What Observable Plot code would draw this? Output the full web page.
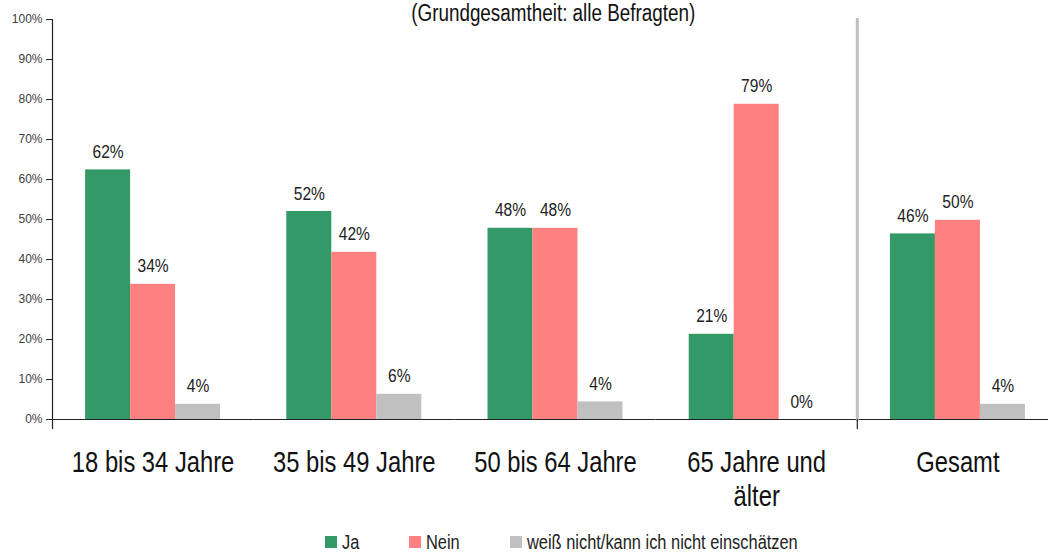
<!DOCTYPE html>
<html>
<head>
<meta charset="utf-8">
<script src="https://cdn.jsdelivr.net/npm/d3@7"></script>
<script src="https://cdn.jsdelivr.net/npm/@observablehq/plot@0.6"></script>
<style>
  html, body { margin: 0; padding: 0; background: #fff; overflow: hidden; }
  #wrap { position: relative; width: 1048px; height: 552px; font-family: "Liberation Sans", Arial, sans-serif; color: #111; }
  #chart { position: absolute; left: 0; top: 0; }
  #title { position: absolute; top: 1.5px; left: 0; width: 1106px; text-align: center; font-size: 23px; line-height: 23px; color: #111; white-space: nowrap; }
  #title span { display: inline-block; transform: scaleX(0.82); transform-origin: center center; }
  #legend { position: absolute; top: 532px; left: 325px; display: flex; font-size: 20px; line-height: 20px; color: #222; white-space: nowrap; }
  #legend .item { display: flex; align-items: center; margin-right: 50px; }
  #legend .sw { width: 12px; height: 12px; display: inline-block; margin-right: 5px; }
  #legend .txt { display: inline-block; transform: scaleX(0.82); transform-origin: left center; }
</style>
</head>
<body>
<div id="wrap">
  <div id="chart"></div>
  <div id="title"><span></span></div>
  <div id="legend"></div>
</div>
<script>
// ---- data ----
const titleText = "(Grundgesamtheit: alle Befragten)";
const groups = ["18 bis 34 Jahre", "35 bis 49 Jahre", "50 bis 64 Jahre", "65 Jahre und älter", "Gesamt"];
const groupLabels = ["18 bis 34 Jahre", "35 bis 49 Jahre", "50 bis 64 Jahre", "65 Jahre und\nälter", "Gesamt"];
const series = ["Ja", "Nein", "weiß nicht/kann ich nicht einschätzen"];
const seriesColors = ["#339966", "#FF8080", "#C0C0C0"];
const jaValues = [62.4, 52.0, 47.8, 21.3, 46.4];
const neinValues = [33.8, 41.8, 47.8, 78.8, 49.8];
const weissValues = [3.8, 6.3, 4.4, 0.0, 3.8];
const yTicks = [0, 10, 20, 30, 40, 50, 60, 70, 80, 90, 100];

const valueSets = [jaValues, neinValues, weissValues];
const table = groups.flatMap((g, i) => series.map((s, j) => ({group: g, series: s, value: valueSets[j][i]})));
const labelOf = new Map(groups.map((g, i) => [g, groupLabels[i]]));

const NARROW_SCALE = 0.82;
const FONT = '"Liberation Sans", Arial, sans-serif';

const chart = Plot.plot({
  width: 1048,
  height: 512,
  marginLeft: 52,
  marginRight: -10,
  marginTop: 19,
  marginBottom: 93,
  style: {fontFamily: FONT, background: "transparent", overflow: "visible"},
  fx: {domain: groups, padding: 0, round: false, label: null},
  x: {domain: series, paddingInner: 0, paddingOuter: 0.736, round: false, axis: null},
  y: {domain: [0, 100], label: null},
  color: {domain: series, range: seriesColors},
  marks: [
    Plot.barY(table, {fx: "group", x: "series", y: "value", fill: "series"}),
    Plot.ruleY([0], {stroke: "#222", strokeWidth: 1.2}),
    Plot.frame({anchor: "left", facetAnchor: "right", stroke: "#C0C0C0", strokeWidth: 3}),
    Plot.frame({anchor: "left", facetAnchor: "right", stroke: "#222", strokeWidth: 1.2, insetTop: 400, insetBottom: -9}),
    Plot.frame({anchor: "left", facetAnchor: "left", stroke: "#222", strokeWidth: 1.2, insetBottom: -9}),
    Plot.axisY({ticks: yTicks, tickFormat: d => d + "%", tickSize: 6, tickPadding: 4, fontSize: 12,
      fontFamily: FONT, fill: "#404040", stroke: "#222", label: null}),
    Plot.axisFx({anchor: "bottom", tickSize: 0, tickPadding: 29, fontSize: 29, lineHeight: 1.15,
      tickFormat: d => labelOf.get(d), fill: "#111", label: null}),
    Plot.text(table, {fx: "group", x: "series", y: "value", text: d => Math.round(d.value) + "%",
      dy: -12, lineAnchor: "bottom", fontSize: 19, fill: "#222"})
  ]
});
document.getElementById("chart").appendChild(chart);

// condensed (narrow) look for all texts except the y-axis tick labels
chart.querySelectorAll("text").forEach(t => {
  const g = t.closest("g[aria-label]");
  const lab = g ? g.getAttribute("aria-label") : "";
  if (lab && lab.startsWith("y-axis")) return;
  const tr = t.getAttribute("transform");
  if (tr) t.setAttribute("transform", tr + ` scale(${NARROW_SCALE},1)`);
});

document.querySelector("#title span").textContent = titleText;

const legend = document.getElementById("legend");
series.forEach((s, j) => {
  const item = document.createElement("div");
  item.className = "item";
  const sw = document.createElement("span");
  sw.className = "sw";
  sw.style.background = seriesColors[j];
  const t = document.createElement("span");
  t.className = "txt";
  t.textContent = s;
  item.appendChild(sw);
  item.appendChild(t);
  legend.appendChild(item);
  t.style.marginRight = (-(1 - NARROW_SCALE) * t.offsetWidth) + "px";
});
</script>
</body>
</html>
